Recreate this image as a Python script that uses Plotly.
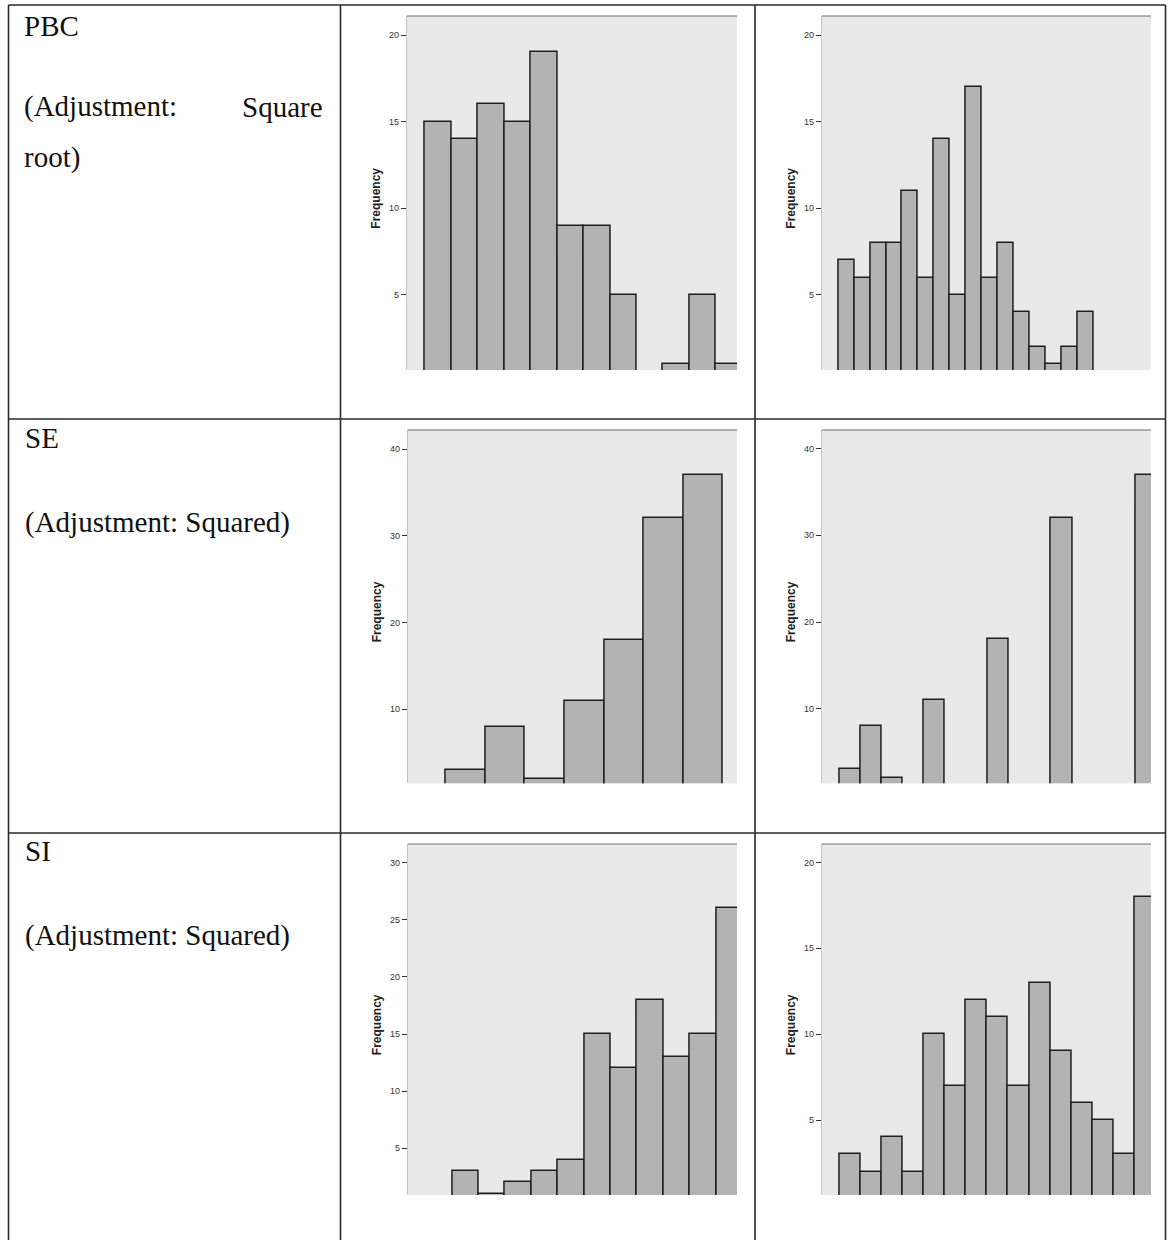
import plotly.graph_objects as go

W, H = 1168, 1240

# ---- data (bin counts) ----
pbc_counts_a = [15, 14, 16, 15, 19, 9, 9, 5, 0, 1, 5, 1]
pbc_counts_b = [7, 6, 8, 8, 11, 6, 14, 5, 17, 6, 8, 4, 2, 1, 2, 4]
se_counts_a = [3, 8, 2, 11, 18, 32, 37]
se_counts_b = [3, 8, 2, 0, 11, 0, 0, 18, 0, 0, 32, 0, 0, 0, 37]
si_counts_a = [3, 1, 2, 3, 4, 15, 12, 18, 13, 15, 26]
si_counts_b = [3, 2, 4, 2, 10, 7, 12, 11, 7, 13, 9, 6, 5, 3, 18]

row_titles = ["PBC", "SE", "SI"]
row_notes = [["(Adjustment:", "Square", "root)"],
             ["(Adjustment: Squared)"],
             ["(Adjustment: Squared)"]]
y_title = "Frequency"
ticks_pbc = [5, 10, 15, 20]
ticks_se = [10, 20, 30, 40]
ticks_si_a = [5, 10, 15, 20, 25, 30]
ticks_si_b = [5, 10, 15, 20]

# ---- layout helpers (pixel -> paper) ----
def px(x):
    return x / W

def py(y):
    return 1 - y / H

panels = [
    dict(counts=pbc_counts_a, xpx=(406.7, 737), ypx=(16, 370), xr=(-1.19, 11.29), yr=(0.67, 21.1), ticks=ticks_pbc),
    dict(counts=pbc_counts_b, xpx=(821.7, 1151), ypx=(16, 370), xr=(-1.55, 19.12), yr=(0.67, 21.1), ticks=ticks_pbc),
    dict(counts=se_counts_a, xpx=(407.7, 737), ypx=(430, 783.3), xr=(-1.46, 6.85), yr=(1.45, 42.2), ticks=ticks_se),
    dict(counts=se_counts_b, xpx=(821.7, 1151), ypx=(430, 783.3), xr=(-1.33, 14.22), yr=(1.4, 42.15), ticks=ticks_se),
    dict(counts=si_counts_a, xpx=(407.7, 737), ypx=(844, 1195), xr=(-2.19, 10.28), yr=(0.9, 31.65), ticks=ticks_si_a),
    dict(counts=si_counts_b, xpx=(821.7, 1151), ypx=(844, 1195), xr=(-1.34, 14.27), yr=(0.64, 21.07), ticks=ticks_si_b),
]

fig = go.Figure()
layout = dict(
    width=W, height=H,
    margin=dict(l=0, r=0, t=0, b=0),
    paper_bgcolor="white",
    plot_bgcolor="#e9e9e9",
    showlegend=False,
    bargap=0,
)
shapes = []
annotations = []

for i, p in enumerate(panels, start=1):
    xa = "x" if i == 1 else f"x{i}"
    ya = "y" if i == 1 else f"y{i}"
    fig.add_trace(go.Bar(
        x=list(range(len(p["counts"]))), y=p["counts"],
        xaxis=xa, yaxis=ya, width=1,
        marker=dict(color="#b3b3b3", line=dict(color="#1e1e1e", width=1.5)),
        hoverinfo="y",
    ))
    layout["xaxis" if i == 1 else f"xaxis{i}"] = dict(
        domain=[px(p["xpx"][0]), px(p["xpx"][1])], range=list(p["xr"]),
        anchor=ya, showticklabels=False, ticks="", showgrid=False,
        zeroline=False, showline=False, fixedrange=True,
    )
    layout["yaxis" if i == 1 else f"yaxis{i}"] = dict(
        domain=[py(p["ypx"][1]), py(p["ypx"][0])], range=list(p["yr"]),
        anchor=xa, tickvals=p["ticks"], ticks="outside", ticklen=5,
        tickwidth=1, tickcolor="#333333", showgrid=False, zeroline=False,
        showline=True, linecolor="#c4c4c4", linewidth=1,
        tickfont=dict(family="Liberation Sans, Arial", size=9, color="#333333"),
        fixedrange=True,
    )
    xref = "x domain" if i == 1 else f"x{i} domain"
    yref = "y domain" if i == 1 else f"y{i} domain"
    shapes.append(dict(type="line", xref=xref, yref=yref, x0=0, x1=1, y0=1, y1=1,
                       line=dict(color="#6e6e6e", width=1.2)))
    annotations.append(dict(
        text=f"<b>{y_title}</b>", textangle=-90, showarrow=False,
        xref="paper", yref="paper",
        x=px(p["xpx"][0] - 31), y=py((p["ypx"][0] + p["ypx"][1]) / 2 + 5),
        xanchor="center", yanchor="middle",
        font=dict(family="Liberation Sans, Arial", size=12, color="#222222"),
    ))

# ---- table grid ----
grid_color = "#2a2a2a"
for xv in [8.5, 340.5, 755, 1165.5]:
    shapes.append(dict(type="line", xref="paper", yref="paper",
                       x0=px(xv), x1=px(xv), y0=py(5), y1=py(1240),
                       line=dict(color=grid_color, width=1.6)))
for yv in [5, 419, 833]:
    shapes.append(dict(type="line", xref="paper", yref="paper",
                       x0=px(8.5), x1=px(1165.5), y0=py(yv), y1=py(yv),
                       line=dict(color=grid_color, width=1.6)))

# ---- left-column text ----
fs = 29
serif = dict(family="Liberation Serif, Times New Roman, serif", size=fs, color="#111111")

def add_text(txt, x, baseline, anchor="left"):
    annotations.append(dict(
        text=txt, showarrow=False, xref="paper", yref="paper",
        x=px(x), y=py(baseline - 0.32 * fs), xanchor=anchor, yanchor="middle",
        font=serif,
    ))

add_text(row_titles[0], 22, 35)
add_text(row_notes[0][0], 22, 116)
add_text(row_notes[0][1], 325, 116, anchor="right")
add_text(row_notes[0][2], 22, 167)
add_text(row_titles[1], 23, 447)
add_text(row_notes[1][0], 23, 532)
add_text(row_titles[2], 23, 860)
add_text(row_notes[2][0], 23, 945)

layout["shapes"] = shapes
layout["annotations"] = annotations
fig.update_layout(**layout)

fig.write_html("out.html", config={"displayModeBar": False},
               post_script="document.body.style.margin='0';")
